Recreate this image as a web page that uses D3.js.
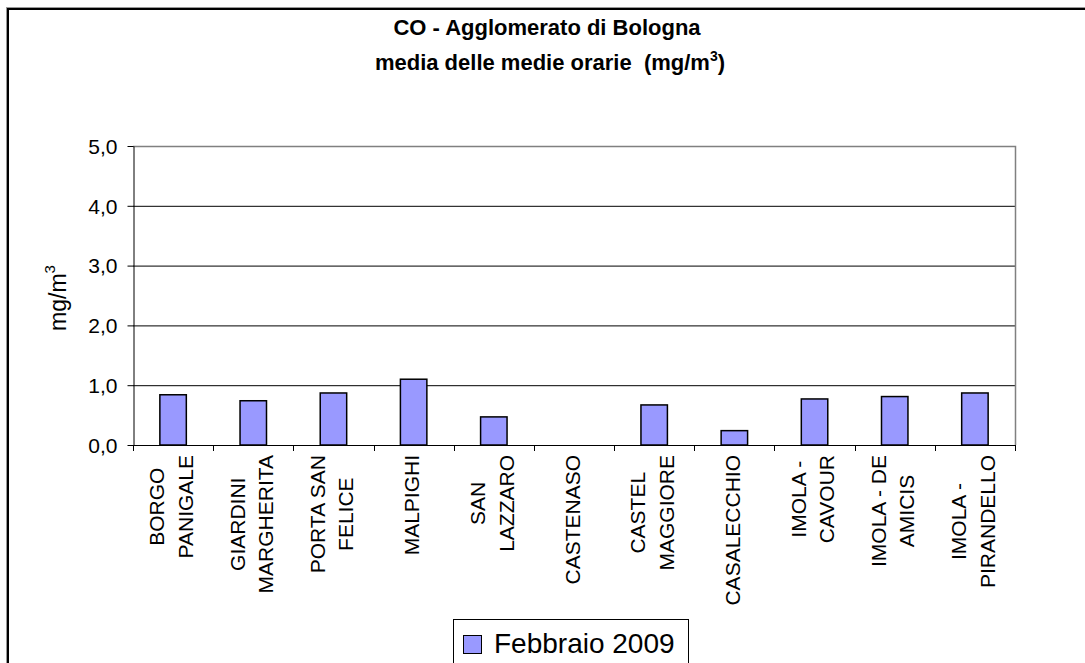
<!DOCTYPE html>
<html>
<head>
<meta charset="utf-8">
<script src="https://cdn.jsdelivr.net/npm/d3@7"></script>
<style>
  body { margin: 0; background: #fff; }
  text { font-family: "Liberation Sans", Arial, sans-serif; fill: #000; }
</style>
</head>
<body>
<script>
// stations, one value each (mg/m3), CASTENASO has no data
const stations = [
  ["BORGO", "PANIGALE"],
  ["GIARDINI", "MARGHERITA"],
  ["PORTA SAN", "FELICE"],
  ["MALPIGHI"],
  ["SAN", "LAZZARO"],
  ["CASTENASO"],
  ["CASTEL", "MAGGIORE"],
  ["CASALECCHIO"],
  ["IMOLA -", "CAVOUR"],
  ["IMOLA - DE", "AMICIS"],
  ["IMOLA -", "PIRANDELLO"]
];
const febbraio2009 = [0.84, 0.74, 0.87, 1.10, 0.47, null, 0.67, 0.24, 0.77, 0.81, 0.87];
const yTicks = [0, 1, 2, 3, 4, 5];
const seriesName = "Febbraio 2009";

function main() {
  const width = 1085, height = 663;
  const plot = {left: 133, right: 1015, top: 146, bottom: 445};

  const svg = d3.select("body")
    .append("svg")
    .attr("width", width)
    .attr("height", height);

  svg.append("rect")
    .attr("width", width).attr("height", height)
    .attr("fill", "#fff");

  // chart frame (right and bottom run off the picture)
  svg.append("rect")
    .attr("x", 6.5).attr("y", 7.5)
    .attr("width", 1200).attr("height", 800)
    .attr("fill", "none").attr("stroke", "#999").attr("stroke-width", 1);
  svg.append("rect")
    .attr("x", 8).attr("y", 9)
    .attr("width", 1200).attr("height", 800)
    .attr("fill", "none").attr("stroke", "#000").attr("stroke-width", 2);

  // title
  const title = svg.append("text")
    .attr("text-anchor", "middle")
    .style("font-weight", "bold")
    .style("font-size", "22px");
  title.append("tspan").attr("x", 547).attr("y", 35).text("CO - Agglomerato di Bologna");
  const t2 = title.append("tspan").attr("x", 550).attr("y", 70);
  t2.append("tspan").text("media delle medie orarie\u00a0\u00a0(mg/m");
  t2.append("tspan").attr("dy", -9).style("font-size", "14px").text("3");
  t2.append("tspan").attr("dy", 9).text(")");

  const x = d3.scaleBand()
    .domain(d3.range(stations.length))
    .range([plot.left, plot.right])
    .padding(0);

  const y = d3.scaleLinear()
    .domain([0, 5])
    .range([plot.bottom, plot.top]);

  // gridlines
  svg.append("g")
    .selectAll("line")
    .data(yTicks.filter(d => d > 0 && d < 5))
    .join("line")
      .attr("x1", plot.left).attr("x2", plot.right)
      .attr("y1", d => y(d) + 0.5).attr("y2", d => y(d) + 0.5)
      .attr("stroke", "#000").attr("stroke-width", 1);

  // plot area border top + right
  svg.append("path")
    .attr("d", `M${plot.left},${y(5) + 0.5}H${plot.right + 0.5}V${plot.bottom}`)
    .attr("fill", "none").attr("stroke", "#808080").attr("stroke-width", 1.5);

  // bars
  const barW = x.bandwidth() * 0.33;
  svg.append("g")
    .selectAll("rect")
    .data(febbraio2009.map((v, i) => ({v, i})).filter(d => d.v != null))
    .join("rect")
      .attr("x", d => x(d.i) + x.bandwidth() / 2 - barW / 2)
      .attr("y", d => y(d.v))
      .attr("width", barW)
      .attr("height", d => y(0) - y(d.v))
      .attr("fill", "#9999ff")
      .attr("stroke", "#000")
      .attr("stroke-width", 1.5);

  // y axis
  const yAxis = svg.append("g")
    .attr("transform", `translate(${plot.left + 0.5},0)`)
    .call(d3.axisLeft(y).tickValues(yTicks).tickSize(6).tickSizeOuter(0)
      .tickFormat(d => d3.format(".1f")(d).replace(".", ",")));
  yAxis.select(".domain").attr("stroke", "#000");
  yAxis.selectAll(".tick line").attr("stroke", "#000");
  yAxis.selectAll(".tick text")
    .attr("x", -16)
    .attr("dy", "0.35em")
    .style("font-size", "21px")
    .style("font-family", "Liberation Sans, Arial, sans-serif")
    .attr("fill", "#000");

  // x axis: ticks on category boundaries
  const xAxis = svg.append("g");
  xAxis.append("line")
    .attr("x1", plot.left).attr("x2", plot.right + 1)
    .attr("y1", plot.bottom + 0.5).attr("y2", plot.bottom + 0.5)
    .attr("stroke", "#000");
  xAxis.selectAll("line.tk")
    .data(d3.range(stations.length + 1))
    .join("line")
      .attr("class", "tk")
      .attr("x1", d => Math.round(plot.left + d * x.step()) + 0.5)
      .attr("x2", d => Math.round(plot.left + d * x.step()) + 0.5)
      .attr("y1", plot.bottom).attr("y2", plot.bottom + 6)
      .attr("stroke", "#000");

  // rotated category labels, lines centred on each other, block top-aligned
  const lineGap = 28.5, labelTop = 455;
  stations.forEach((lines, i) => {
    const cx = x(i) + x.bandwidth() / 2 - 2;
    const g = xAxis.append("text")
      .attr("transform", `translate(${cx},${labelTop}) rotate(-90)`)
      .attr("text-anchor", "middle")
      .style("font-size", "21px");
    const spans = lines.map((s, k) => g.append("tspan")
      .attr("y", (k - (lines.length - 1) / 2) * lineGap + 7.5)
      .text(s));
    const maxW = d3.max(spans, s => s.node().getComputedTextLength());
    spans.forEach(s => s.attr("x", -maxW / 2));
  });

  // y axis title
  const yt = svg.append("text")
    .attr("transform", `translate(66,298) rotate(-90)`)
    .attr("text-anchor", "middle")
    .style("font-size", "23px");
  yt.append("tspan").text("mg/m");
  yt.append("tspan").attr("dy", -11).style("font-size", "15px").text("3");

  // legend
  const lg = svg.append("g").attr("transform", "translate(453,619)");
  lg.append("rect")
    .attr("x", 0.5).attr("y", 0.5)
    .attr("width", 235).attr("height", 80)
    .attr("fill", "#fff").attr("stroke", "#000");
  lg.append("rect")
    .attr("x", 10.5).attr("y", 16.5)
    .attr("width", 18).attr("height", 18)
    .attr("fill", "#9999ff").attr("stroke", "#000");
  lg.append("text")
    .attr("x", 41).attr("y", 34)
    .style("font-size", "28px")
    .text(seriesName);
}

window.addEventListener("load", main);
</script>
</body>
</html>
